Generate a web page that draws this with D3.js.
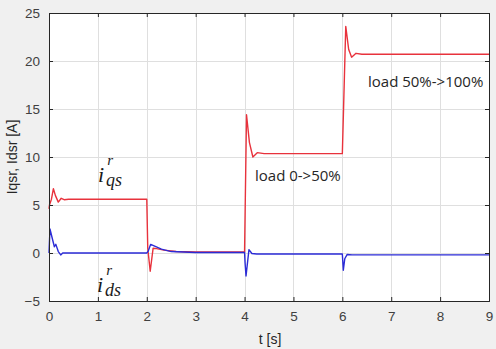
<!DOCTYPE html>
<html>
<head>
<meta charset="utf-8">
<script src="https://cdn.jsdelivr.net/npm/d3@7"></script>
<style>
  html, body { margin: 0; padding: 0; background: #f0f0f0; }
  svg { display: block; }
</style>
</head>
<body>
<svg id="chart" width="496" height="349"></svg>
<script>
// q-axis rotor current (A) over time (s)
const tQs = [0, 0.01, 0.05, 0.09, 0.13, 0.19, 0.25, 0.31, 0.4, 2.0, 2.02, 2.07, 2.13, 2.2, 2.35, 2.6, 3.0, 4.0, 4.04, 4.1, 4.17, 4.26, 4.4, 6.0, 6.07, 6.13, 6.19, 6.28, 6.4, 9.0];
const iQs = [4.6, 5.0, 5.6, 6.7, 6.0, 5.3, 5.7, 5.55, 5.6, 5.6, 0.5, -1.9, 0.5, 0.45, 0.3, 0.15, 0.1, 0.1, 14.4, 11.5, 10.0, 10.45, 10.35, 10.35, 23.6, 21.2, 20.4, 20.8, 20.7, 20.7];

// d-axis rotor current (A) over time (s)
const tDs = [0, 0.02, 0.075, 0.11, 0.14, 0.19, 0.24, 0.28, 2.0, 2.03, 2.08, 2.15, 2.3, 2.5, 3.0, 4.0, 4.01, 4.03, 4.09, 4.15, 4.25, 6.0, 6.02, 6.05, 6.1, 6.2, 9.0];
const iDs = [0, 2.5, 1.35, 0.65, 0.9, 0.15, -0.2, 0.0, 0.0, 0.2, 0.9, 0.75, 0.4, 0.15, 0.05, 0.05, -1.0, -2.4, 0.35, -0.05, -0.1, -0.1, -1.8, -0.6, -0.15, -0.2, -0.2];

const xTicks = [0, 1, 2, 3, 4, 5, 6, 7, 8, 9];
const yTicks = [-5, 0, 5, 10, 15, 20, 25];

const svg = d3.select("#chart");
const plot = { left: 49, top: 13, right: 489, bottom: 301 };

const x = d3.scaleLinear().domain([0, 9]).range([plot.left, plot.right]);
const y = d3.scaleLinear().domain([-5, 25]).range([plot.bottom, plot.top]);

// white axes area
svg.append("rect")
  .attr("x", plot.left).attr("y", plot.top)
  .attr("width", plot.right - plot.left).attr("height", plot.bottom - plot.top)
  .attr("fill", "#ffffff");

// grid
const grid = svg.append("g").attr("stroke", "#dfdfdf").attr("stroke-width", 1);
grid.selectAll("line.vx").data(xTicks.slice(1, -1)).enter().append("line")
  .attr("x1", d => Math.round(x(d)) + 0.5).attr("x2", d => Math.round(x(d)) + 0.5)
  .attr("y1", plot.top).attr("y2", plot.bottom);
grid.selectAll("line.hy").data(yTicks.slice(1, -1)).enter().append("line")
  .attr("y1", d => Math.round(y(d)) + 0.5).attr("y2", d => Math.round(y(d)) + 0.5)
  .attr("x1", plot.left).attr("x2", plot.right);

// signals
const line = d3.line().x(d => x(d[0])).y(d => y(d[1]));
const qsData = tQs.map((t, i) => [t, iQs[i]]);
const dsData = tDs.map((t, i) => [t, iDs[i]]);

svg.append("path").datum(qsData)
  .attr("d", line).attr("fill", "none")
  .attr("stroke", "#e8323c").attr("stroke-width", 1.4).attr("stroke-linejoin", "round");
svg.append("path").datum(dsData)
  .attr("d", line).attr("fill", "none")
  .attr("stroke", "#2b2bd6").attr("stroke-width", 1.4).attr("stroke-linejoin", "round");

// axes with inward ticks on all four sides
const axisColor = "#262626";
const tickFont = "'Liberation Sans', Arial, sans-serif";

const gx = svg.append("g").attr("transform", `translate(0,${plot.bottom})`)
  .call(d3.axisBottom(x).tickValues(xTicks).tickSize(-4).tickPadding(10).tickFormat(d3.format("d")));
const gxTop = svg.append("g").attr("transform", `translate(0,${plot.top})`)
  .call(d3.axisTop(x).tickValues(xTicks).tickSize(-4).tickFormat(""));
const gy = svg.append("g").attr("transform", `translate(${plot.left},0)`)
  .call(d3.axisLeft(y).tickValues(yTicks).tickSize(-4).tickPadding(9).tickFormat(d3.format("d")));
const gyRight = svg.append("g").attr("transform", `translate(${plot.right},0)`)
  .call(d3.axisRight(y).tickValues(yTicks).tickSize(-4).tickFormat(""));

[gx, gxTop, gy, gyRight].forEach(g => {
  g.select(".domain").attr("stroke", axisColor);
  g.selectAll(".tick line").attr("stroke", axisColor);
  g.selectAll(".tick text")
    .attr("fill", "#404040")
    .style("font-family", tickFont)
    .style("font-size", "13.5px");
});

// axis titles
svg.append("text")
  .attr("x", 270).attr("y", 344)
  .attr("text-anchor", "middle")
  .attr("fill", "#262626")
  .style("font-family", tickFont).style("font-size", "14px")
  .text("t [s]");

svg.append("text")
  .attr("transform", "translate(17,157) rotate(-90)")
  .attr("text-anchor", "middle")
  .attr("fill", "#262626")
  .style("font-family", tickFont).style("font-size", "14px")
  .text("Iqsr, Idsr [A]");

// event annotations
const noteFont = "'Open Sans', 'Noto Sans', sans-serif";
svg.append("text")
  .attr("x", 255).attr("y", 181)
  .attr("fill", "#262626")
  .style("font-family", noteFont).style("font-size", "15px")
  .text("load 0->50%");
svg.append("text")
  .attr("x", 368).attr("y", 87)
  .attr("fill", "#262626")
  .style("font-family", noteFont).style("font-size", "15px")
  .text("load 50%->100%");

// current symbols i^r_qs and i^r_ds, each as one text with shifted tspans
const mathFont = "'Liberation Serif', 'DejaVu Serif', serif";
function currentSymbol(xPos, baseY, sub) {
  const t = svg.append("text")
    .attr("x", xPos).attr("y", baseY)
    .attr("fill", "#1a1a1a")
    .style("font-family", mathFont).style("font-style", "italic");
  t.append("tspan").style("font-size", "22px").text("i");
  t.append("tspan").attr("dx", 3).attr("dy", -17).style("font-size", "15px").text("r");
  t.append("tspan").attr("dx", -7).attr("dy", 21).style("font-size", "18px").text(sub);
}
currentSymbol(98, 182, "qs");
currentSymbol(97, 292, "ds");
</script>
</body>
</html>
